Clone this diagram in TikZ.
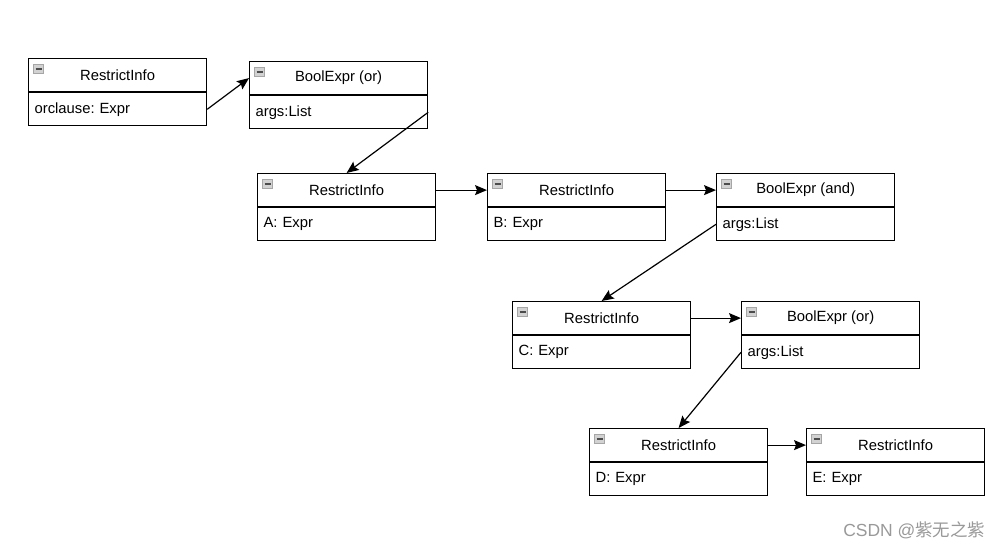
\documentclass[tikz,border=0pt]{standalone}
\usepackage{fontspec}
\setmainfont{Liberation Sans}
\newfontfamily\cjk{Noto Sans CJK SC}
\usetikzlibrary{positioning,arrows.meta}
\frenchspacing

\tikzset{
  titlebox/.style={draw, line width=1.2pt, anchor=north west, minimum width=178pt,
    minimum height=33pt, inner sep=0pt, font=\fontsize{14.8}{17}\selectfont,
    path picture={
      \draw[fill=gray!35, draw=gray!70, line width=0.6pt]
        ([xshift=5pt,yshift=-6pt]path picture bounding box.north west)
        rectangle ++(10pt,-9pt);
      \draw[line width=1.6pt, draw=black!70]
        ([xshift=7pt,yshift=-10.5pt]path picture bounding box.north west) -- ++(6pt,0);
    }},
  fieldbox/.style={draw, line width=1.2pt, minimum width=178pt, minimum height=33pt,
    text width=166pt, inner xsep=6pt, inner ysep=0pt, align=left,
    font=\fontsize{14.8}{17}\selectfont},
  link/.style={-{Stealth[length=12pt,width=10pt,inset=2pt]}, line width=1.2pt}
}

\begin{document}
\begin{tikzpicture}[x=1pt,y=-1pt]
    \useasboundingbox (0,0) rectangle (1003,549);

    % 先頭の RestrictInfo
    \node[titlebox] (r1) at (28,58) {RestrictInfo};
    \node[fieldbox, below=0pt of r1] (r1f) {orclause: Expr};

    % BoolExpr (or)
    \node[titlebox] (b1) at (249,61) {BoolExpr (or)};
    \node[fieldbox, below=0pt of b1] (b1f) {args:List};

    % 2 段目
    \node[titlebox] (a1) at (257,173) {RestrictInfo};
    \node[fieldbox, below=0pt of a1] (a1f) {A: Expr};

    \node[titlebox] (a2) at (487,173) {RestrictInfo};
    \node[fieldbox, below=0pt of a2] (a2f) {B: Expr};

    \node[titlebox] (a3) at (716,173) {BoolExpr (and)};
    \node[fieldbox, below=0pt of a3] (a3f) {args:List};

    % 3 段目
    \node[titlebox] (c1) at (512,301) {RestrictInfo};
    \node[fieldbox, below=0pt of c1] (c1f) {C: Expr};

    \node[titlebox] (c2) at (741,301) {BoolExpr (or)};
    \node[fieldbox, below=0pt of c2] (c2f) {args:List};

    % 4 段目
    \node[titlebox] (d1) at (589,428) {RestrictInfo};
    \node[fieldbox, below=0pt of d1] (d1f) {D: Expr};

    \node[titlebox] (d2) at (806,428) {RestrictInfo};
    \node[fieldbox, below=0pt of d2] (d2f) {E: Expr};

    % 矢印
    \draw[link] (r1f.east) -- (b1.west);
    \draw[link] (b1f.east) -- (a1.north);
    \draw[link] (a1.east) -- (a2.west);
    \draw[link] (a2.east) -- (a3.west);
    \draw[link] (a3f.west) -- (c1.north);
    \draw[link] (c1.east) -- (c2.west);
    \draw[link] (c2f.west) -- (d1.north);
    \draw[link] (d1.east) -- (d2.west);

    % 透かし
    \node[anchor=east, text=gray!80, font=\fontsize{17.5}{20}\selectfont] (mark) at (989,530)
      {CSDN @{\cjk 紫无之紫}};
\end{tikzpicture}
\end{document}
